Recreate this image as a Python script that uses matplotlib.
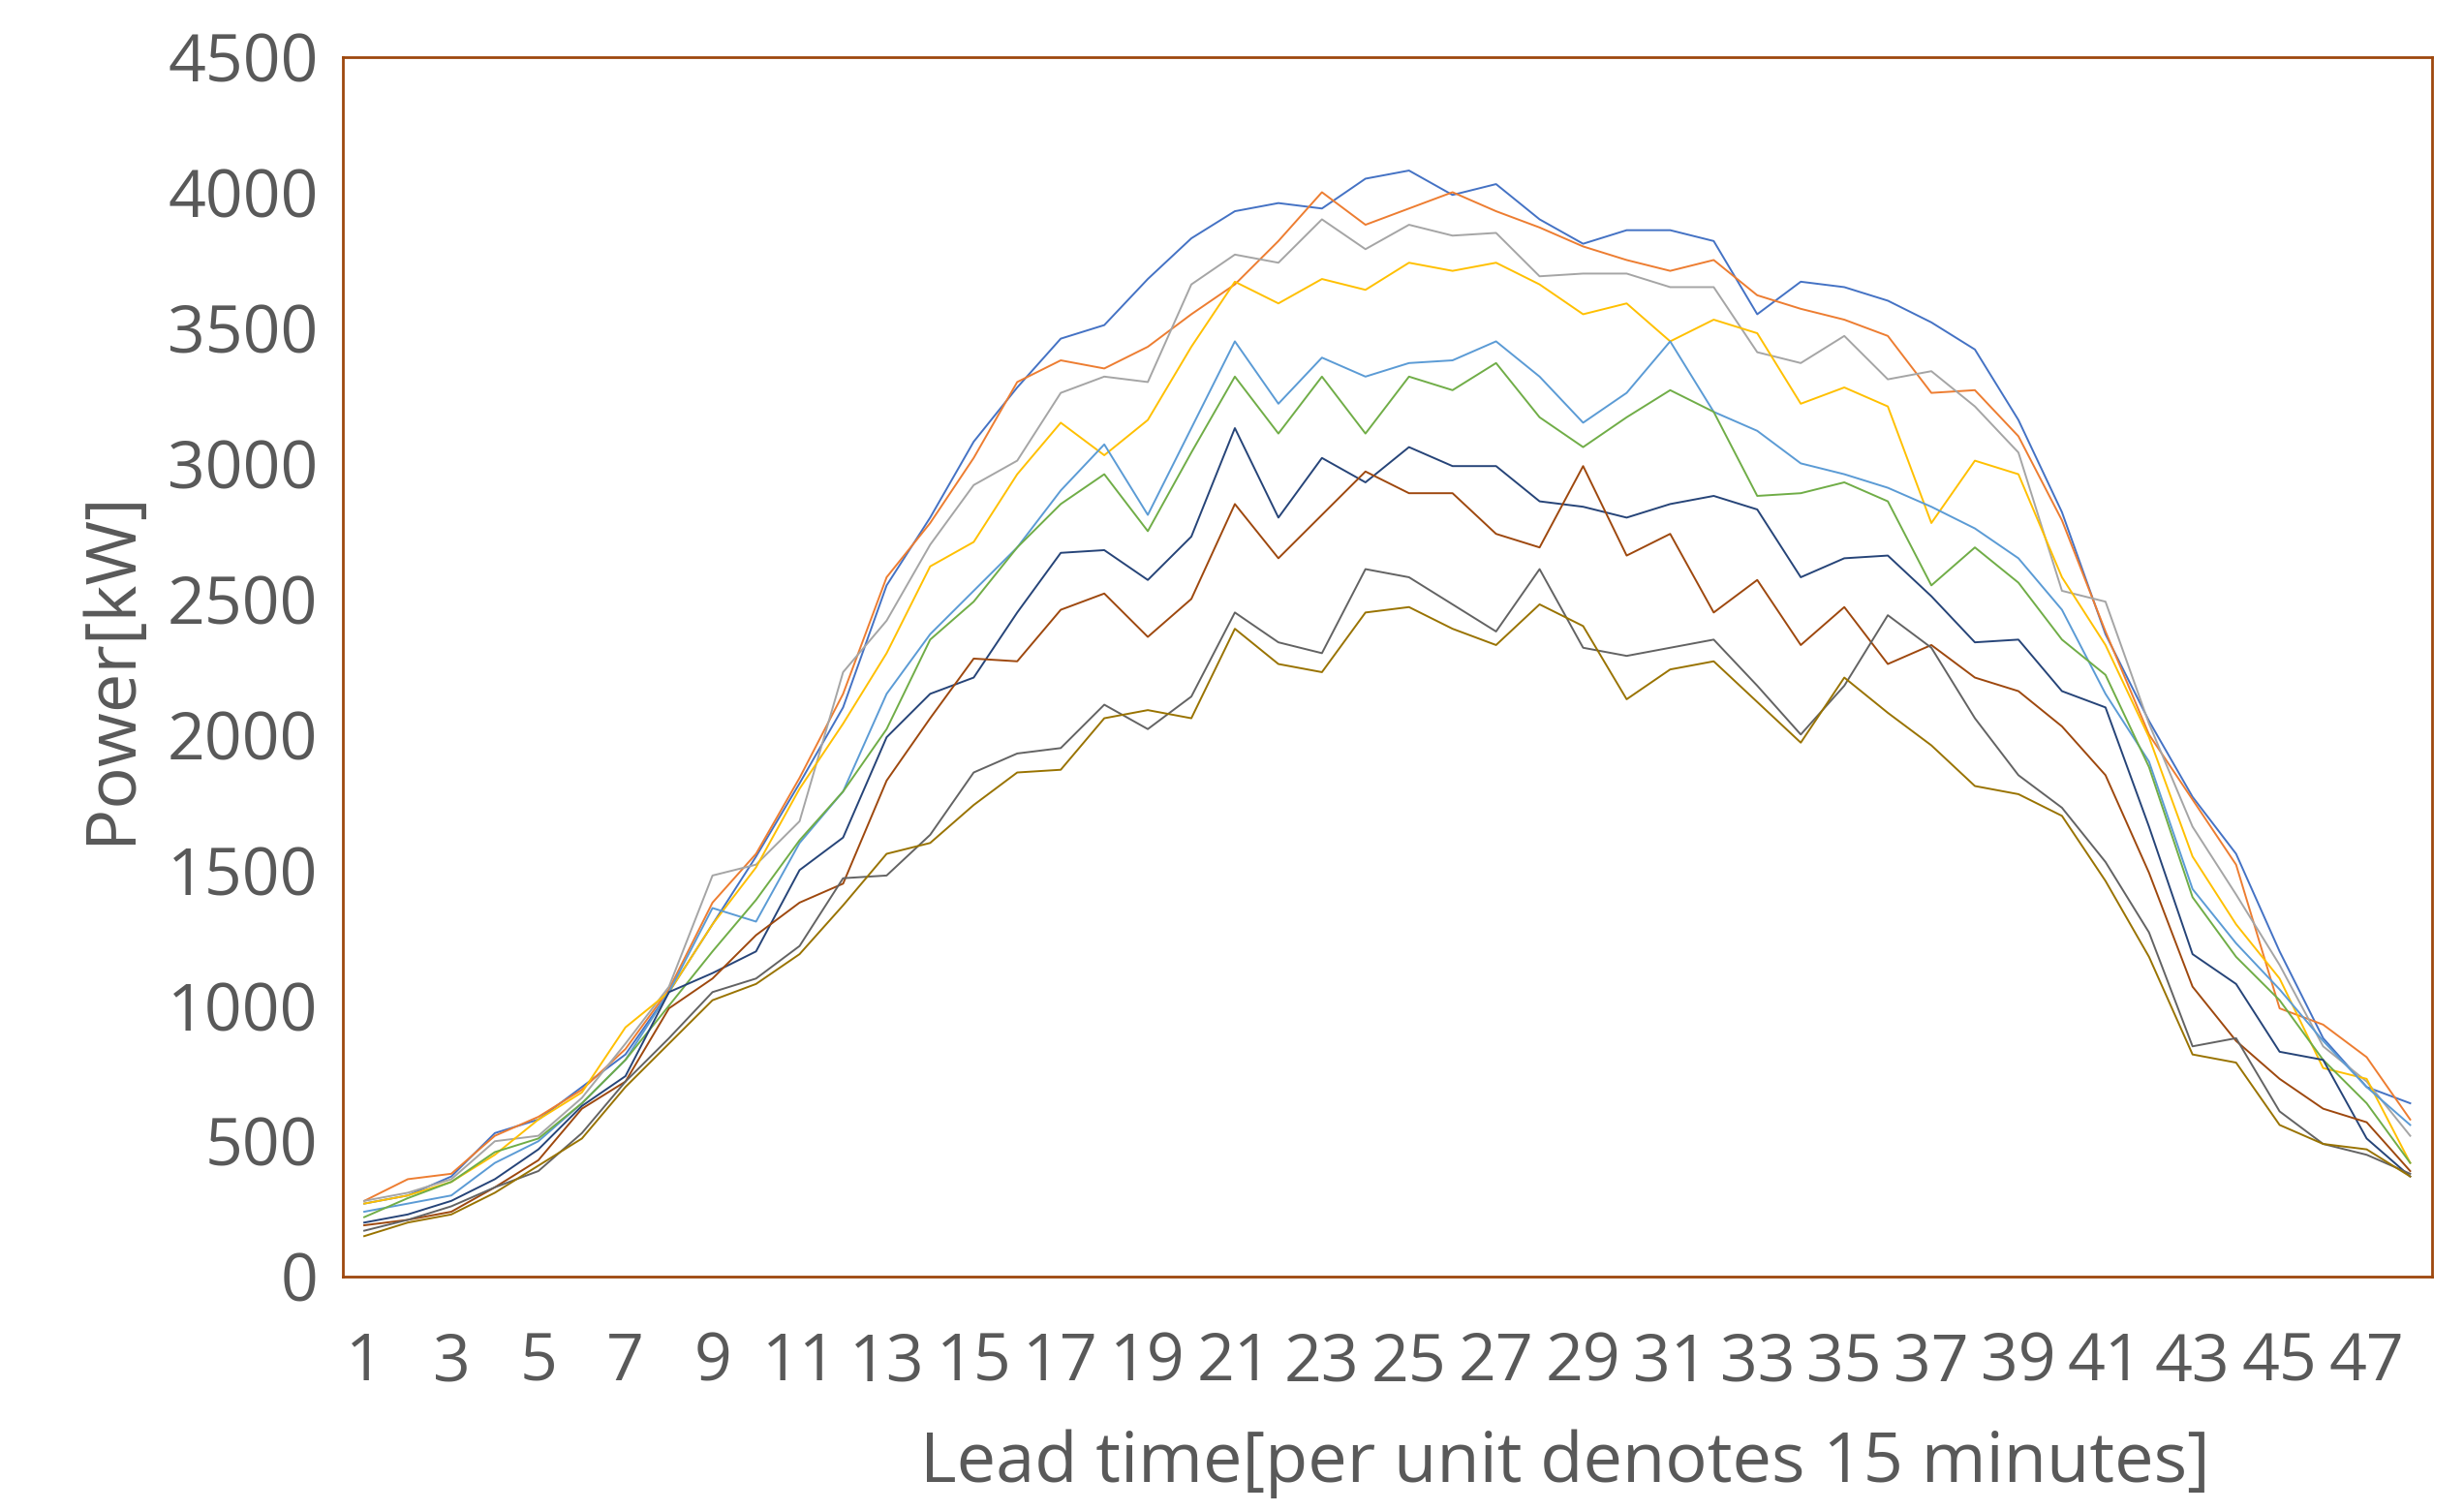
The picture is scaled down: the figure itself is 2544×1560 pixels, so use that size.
import matplotlib.pyplot as plt
import numpy as np

plt.rcParams['font.family'] = ['Open Sans', 'DejaVu Sans']

lead = np.arange(1, 49)

s1 = [270,300,370,530,580,700,820,1050,1300,1550,1820,2100,2550,2800,3080,3280,3460,3510,3680,3830,3930,3960,3940,4050,4080,3990,4030,3900,3810,3860,3860,3820,3550,3670,3650,3600,3520,3420,3160,2820,2370,2050,1770,1560,1200,880,700,640]
s2 = [280,360,380,520,590,690,840,1060,1380,1560,1840,2150,2580,2780,3020,3300,3380,3350,3430,3550,3660,3820,4000,3880,3940,4000,3930,3870,3800,3750,3710,3750,3620,3570,3530,3470,3260,3270,3100,2790,2380,2000,1760,1520,990,930,810,580]
s3 = [280,310,360,500,520,660,860,1070,1480,1520,1680,2230,2420,2700,2920,3010,3260,3320,3300,3660,3770,3740,3900,3790,3880,3840,3850,3690,3700,3700,3650,3650,3410,3370,3470,3310,3340,3210,3040,2530,2490,2040,1660,1410,1150,850,720,520]
s4 = [270,300,350,450,580,680,920,1050,1300,1510,1800,2040,2300,2620,2710,2960,3150,3030,3160,3430,3670,3590,3680,3640,3740,3710,3740,3660,3550,3590,3450,3530,3480,3220,3280,3210,2780,3010,2960,2580,2330,1990,1550,1300,1100,770,730,420]
s5 = [240,270,300,420,500,640,800,1050,1360,1310,1600,1790,2150,2370,2530,2690,2900,3070,2810,3130,3450,3220,3390,3320,3370,3380,3450,3320,3150,3260,3450,3190,3120,3000,2960,2910,2840,2760,2650,2460,2150,1900,1430,1230,1060,870,700,560]
s6 = [220,290,350,460,510,640,800,1000,1200,1390,1610,1790,2020,2350,2490,2690,2850,2960,2750,3040,3320,3110,3320,3110,3320,3270,3370,3170,3060,3170,3270,3190,2880,2890,2930,2860,2550,2690,2560,2350,2220,1880,1400,1180,1020,800,640,420]
s7 = [200,230,280,360,470,630,740,1050,1120,1200,1500,1620,1990,2150,2210,2450,2670,2680,2570,2730,3130,2800,3020,2930,3060,2990,2990,2860,2840,2800,2850,2880,2830,2580,2650,2660,2510,2340,2350,2160,2100,1660,1190,1080,830,800,510,370]
s8 = [190,210,240,330,430,620,720,990,1100,1260,1380,1450,1830,2060,2280,2270,2460,2520,2360,2500,2850,2650,2810,2970,2890,2890,2740,2690,2990,2660,2740,2450,2570,2330,2470,2260,2330,2210,2160,2030,1850,1490,1070,870,730,620,570,390]
s9 = [170,210,260,330,390,530,720,880,1050,1100,1220,1470,1480,1630,1860,1930,1950,2110,2020,2140,2450,2340,2300,2610,2580,2480,2380,2610,2320,2290,2320,2350,2180,2000,2180,2440,2320,2060,1850,1730,1530,1270,850,880,610,490,450,380]
s10 = [150,200,230,310,410,510,700,860,1020,1080,1190,1370,1560,1600,1740,1860,1870,2060,2090,2060,2390,2260,2230,2450,2470,2390,2330,2480,2400,2130,2240,2270,2120,1970,2210,2080,1960,1810,1780,1700,1460,1180,820,790,560,490,470,370]

series = [s1, s2, s3, s4, s5, s6, s7, s8, s9, s10]
colors = ['#4472C4', '#ED7D31', '#A5A5A5', '#FFC000', '#5B9BD5',
          '#70AD47', '#264478', '#9E480E', '#636363', '#997300']

fig = plt.figure(figsize=(12.72, 7.8), dpi=200)
ax = fig.add_axes([0.139, 0.155, 0.848, 0.8075])
for s, c in zip(series, colors):
    ax.plot(lead, s, color=c, lw=0.7)

ax.set_xlim(0.5, 48.5)
ax.set_ylim(0, 4500)
ax.set_yticks(range(0, 4501, 500))
ax.set_xticks(lead[::2])
ax.tick_params(length=0, labelsize=24.5, labelcolor='#595959')
ax.tick_params(axis='x', pad=20)
ax.tick_params(axis='y', pad=9)
for sp in ax.spines.values():
    sp.set_color('#9E480E')
    sp.set_linewidth(1.0)
ax.set_ylabel('Power[kW]', fontsize=26, color='#595959', labelpad=8)
ax.set_xlabel('Lead time[per unit denotes 15 minutes]', fontsize=26, color='#595959', labelpad=2)
ax.xaxis.set_label_coords(0.585, -0.125)

fig.savefig('out.png', dpi=200)
